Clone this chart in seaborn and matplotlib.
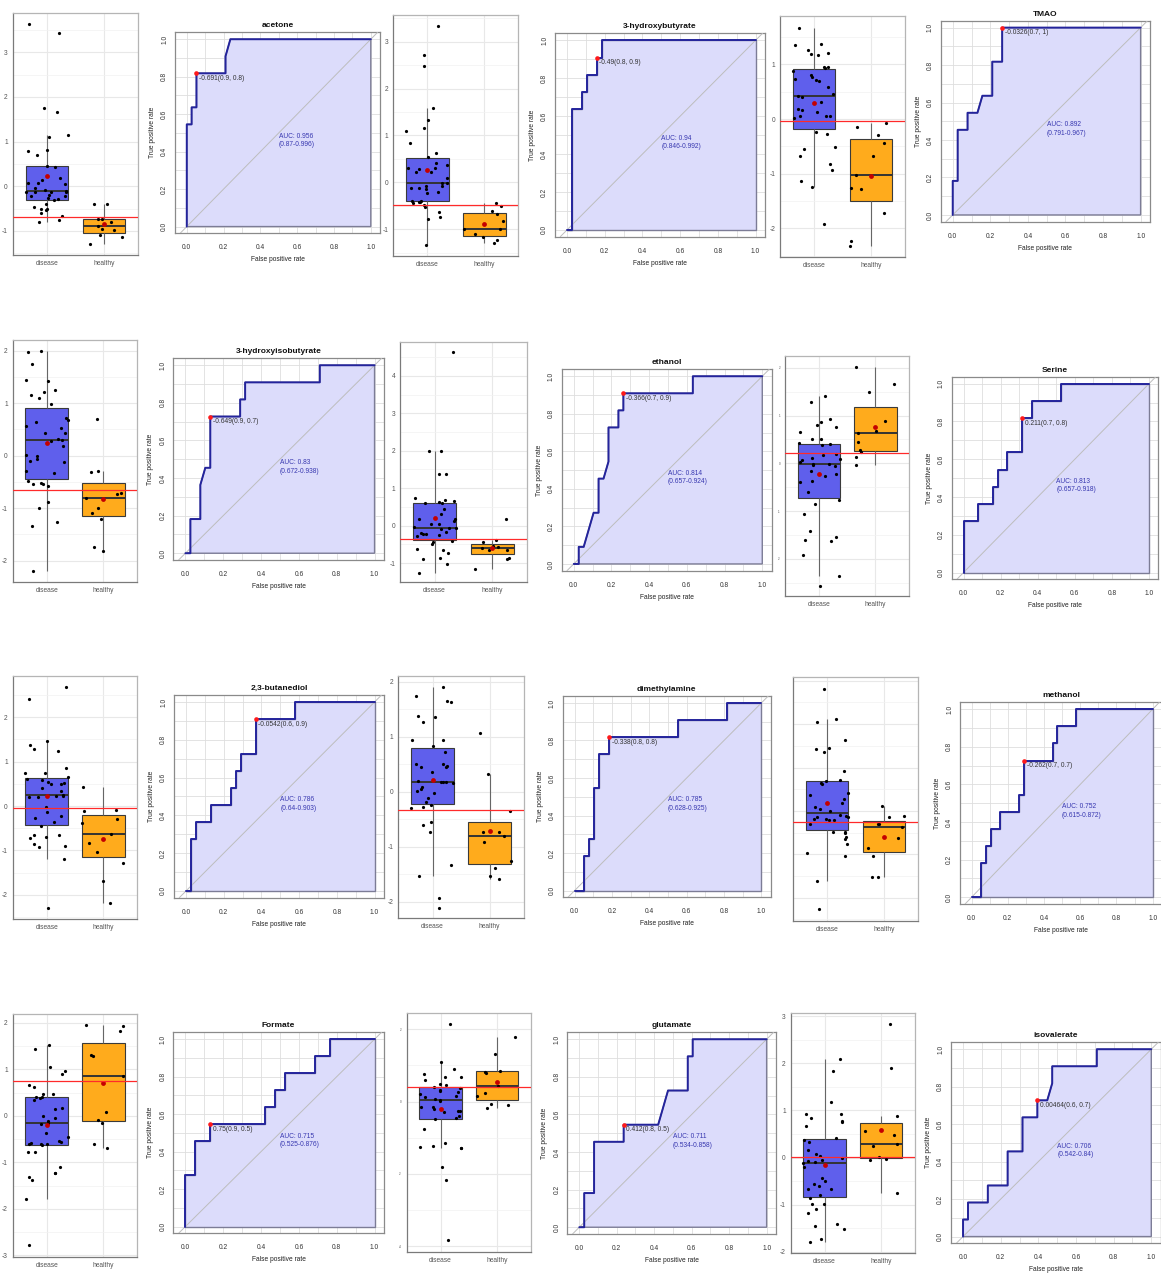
import numpy as np
import pandas as pd
import matplotlib
matplotlib.use('Agg')
import matplotlib.pyplot as plt
from matplotlib.ticker import MultipleLocator, FormatStrFormatter
import seaborn as sns

sns.set_style('white')
plt.rcParams['font.family'] = ['Liberation Sans', 'DejaVu Sans']
plt.rcParams['axes.unicode_minus'] = False
np.random.seed(7)

W, H = 1161, 1278
N_DISEASE, N_HEALTHY = 38, 11
groups = ['disease', 'healthy']
box_colors = {'disease': '#5f5fec', 'healthy': '#ffab1c'}

names = ['acetone', '3-hydroxybutyrate', 'TMAO', '3-hydroxyisobutyrate', 'ethanol', 'Serine',
         '2,3-butanediol', 'dimethylamine', 'methanol', 'Formate', 'glutamate', 'isovalerate']

# scaled concentrations per group
acetone_disease = [3.63, 3.43, 1.75, 1.66, 1.15, 1.11, 0.82, 0.79, 0.69, 0.46, 0.42, 0.18, 0.14, 0.08, 0.07, 0.04,
                   -0.04, -0.08, -0.10, -0.12, -0.12, -0.14, -0.14, -0.19, -0.22, -0.23, -0.27, -0.29, -0.31, -0.40,
                   -0.47, -0.51, -0.51, -0.54, -0.59, -0.66, -0.75, -0.81]
acetone_healthy = [-0.40, -0.40, -0.73, -0.73, -0.81, -0.90, -0.96, -0.98, -1.10, -1.13, -1.29]
hb_disease = [3.33, 2.71, 2.48, 1.58, 1.34, 1.17, 1.09, 0.83, 0.63, 0.55, 0.42, 0.38, 0.31, 0.30, 0.28, 0.23, 0.22, 0.09,
              -0.01, -0.02, -0.07, -0.08, -0.11, -0.13, -0.15, -0.21, -0.22, -0.39, -0.40, -0.41, -0.42, -0.43,
              -0.49, -0.52, -0.63, -0.73, -0.78, -1.34]
hb_healthy = [-0.45, -0.50, -0.61, -0.68, -0.82, -1.00, -1.00, -1.11, -1.17, -1.22, -1.30]
tmao_disease = [1.67, 1.38, 1.35, 1.27, 1.21, 1.19, 1.18, 0.96, 0.96, 0.93, 0.88, 0.80, 0.77, 0.74, 0.72, 0.69, 0.59,
                0.46, 0.43, 0.40, 0.32, 0.19, 0.16, 0.13, 0.05, 0.05, 0.05, 0.01, -0.24, -0.27, -0.52, -0.55, -0.68,
                -0.83, -0.94, -1.14, -1.25, -1.92]
tmao_healthy = [-0.08, -0.15, -0.30, -0.43, -0.68, -1.02, -1.27, -1.28, -1.72, -2.24, -2.33]
hib_disease = [2.00, 1.98, 1.74, 1.44, 1.42, 1.24, 1.21, 1.16, 1.10, 0.98, 0.71, 0.67, 0.64, 0.57, 0.52, 0.43, 0.43,
               0.31, 0.30, 0.28, 0.18, 0.01, -0.01, -0.07, -0.10, -0.12, -0.29, -0.34, -0.48, -0.53, -0.54, -0.55,
               -0.57, -0.89, -1.00, -1.26, -1.34, -2.19]
hib_healthy = [0.70, -0.29, -0.31, -0.72, -0.74, -0.81, -1.00, -1.09, -1.21, -1.74, -1.81]
eth_disease = [4.63, 2.00, 1.99, 1.37, 1.37, 0.73, 0.69, 0.67, 0.62, 0.61, 0.60, 0.44, 0.30, 0.18, 0.17, 0.12, 0.04,
               0.04, -0.04, -0.06, -0.07, -0.10, -0.16, -0.20, -0.22, -0.22, -0.25, -0.28, -0.40, -0.44, -0.50,
               -0.63, -0.65, -0.72, -0.87, -0.89, -1.03, -1.25]
eth_healthy = [0.17, -0.38, -0.44, -0.54, -0.58, -0.60, -0.65, -0.65, -0.87, -0.89, -1.15]
ser_disease = [1.42, 1.29, 0.92, 0.86, 0.81, 0.77, 0.66, 0.51, 0.50, 0.42, 0.40, 0.39, 0.20, 0.18, 0.12, 0.10, 0.07,
               0.03, -0.01, -0.01, -0.03, -0.06, -0.16, -0.22, -0.27, -0.37, -0.40, -0.61, -0.77, -0.86, -1.07,
               -1.42, -1.54, -1.60, -1.62, -1.93, -2.37, -2.56]
ser_healthy = [2.02, 1.66, 1.49, 0.89, 0.68, 0.63, 0.44, 0.28, 0.23, 0.14, -0.03]
bd_disease = [2.69, 2.42, 1.46, 1.37, 1.28, 1.24, 0.86, 0.74, 0.74, 0.65, 0.60, 0.59, 0.55, 0.53, 0.50, 0.49, 0.40,
              0.34, 0.26, 0.23, 0.23, 0.21, 0.21, -0.03, -0.13, -0.22, -0.26, -0.35, -0.44, -0.64, -0.65, -0.69,
              -0.71, -0.86, -0.90, -0.93, -1.20, -2.30]
bd_healthy = [0.42, -0.08, -0.11, -0.30, -0.39, -0.62, -0.84, -1.03, -1.28, -1.68, -2.19]
dma_disease = [1.90, 1.73, 1.64, 1.63, 1.38, 1.35, 1.27, 0.94, 0.93, 0.82, 0.72, 0.50, 0.50, 0.47, 0.45, 0.44, 0.35,
               0.20, 0.18, 0.17, 0.17, 0.16, 0.09, 0.05, 0.01, -0.02, -0.11, -0.18, -0.25, -0.27, -0.30, -0.56,
               -0.61, -0.74, -1.33, -1.53, -1.94, -2.11]
dma_healthy = [1.06, 0.32, -0.36, -0.73, -0.73, -0.80, -0.92, -1.26, -1.38, -1.53, -1.59]
meth_disease = [2.82, 2.12, 2.06, 1.64, 1.45, 1.43, 1.35, 0.91, 0.72, 0.70, 0.64, 0.62, 0.42, 0.37, 0.28, 0.19, 0.08,
                0.05, 0.00, -0.09, -0.11, -0.13, -0.15, -0.18, -0.19, -0.21, -0.22, -0.31, -0.48, -0.49, -0.52,
                -0.59, -0.65, -0.77, -0.96, -1.04, -1.62, -2.27]
meth_healthy = [0.12, -0.11, -0.15, -0.30, -0.31, -0.38, -0.62, -0.85, -1.03, -1.52, -1.53]
form_disease = [1.52, 1.43, 1.05, 0.97, 0.89, 0.66, 0.61, 0.47, 0.47, 0.41, 0.41, 0.39, 0.34, 0.17, 0.14, 0.00,
                -0.04, -0.11, -0.15, -0.17, -0.36, -0.45, -0.54, -0.57, -0.59, -0.61, -0.61, -0.61, -0.63, -0.77,
                -0.78, -1.10, -1.24, -1.24, -1.31, -1.37, -1.78, -2.78]
form_healthy = [1.95, 1.94, 1.82, 1.30, 1.28, 0.85, 0.09, -0.08, -0.16, -0.61, -0.70]
glu_disease = [2.15, 1.09, 0.89, 0.76, 0.67, 0.67, 0.60, 0.49, 0.45, 0.40, 0.38, 0.32, 0.28, 0.26, 0.20, 0.16, 0.12,
               0.08, 0.05, 0.02, -0.14, -0.16, -0.20, -0.26, -0.26, -0.29, -0.40, -0.46, -0.49, -0.76, -1.15,
               -1.22, -1.26, -1.27, -1.29, -1.80, -2.17, -3.84]
glu_healthy = [1.78, 1.31, 0.85, 0.83, 0.78, 0.43, 0.23, 0.16, -0.07, -0.09, -0.17]
iso_disease = [2.10, 1.84, 1.17, 0.93, 0.92, 0.85, 0.78, 0.76, 0.67, 0.41, 0.37, 0.33, 0.17, 0.07, 0.04, -0.01,
               -0.05, -0.08, -0.10, -0.11, -0.21, -0.44, -0.49, -0.56, -0.61, -0.66, -0.67, -0.79, -0.86, -0.98,
               -0.99, -1.09, -1.17, -1.41, -1.45, -1.51, -1.73, -1.79]
iso_healthy = [2.83, 1.89, 0.88, 0.57, 0.48, 0.29, 0.25, 0.01, -0.04, -0.05, -0.76]

disease_values = [acetone_disease, hb_disease, tmao_disease, hib_disease, eth_disease, ser_disease,
                  bd_disease, dma_disease, meth_disease, form_disease, glu_disease, iso_disease]
healthy_values = [acetone_healthy, hb_healthy, tmao_healthy, hib_healthy, eth_healthy, ser_healthy,
                  bd_healthy, dma_healthy, meth_healthy, form_healthy, glu_healthy, iso_healthy]

# ROC vertices as counts of false positives (of 38) and true positives (of 11)
roc_fp = [
    [0, 0, 1, 1, 2, 2, 8, 8, 9, 38],
    [0, 1, 1, 3, 3, 4, 4, 6, 6, 7, 7, 38],
    [0, 0, 1, 1, 3, 3, 5, 6, 8, 8, 10, 10, 38],
    [0, 1, 1, 3, 3, 4, 5, 5, 11, 11, 12, 12, 27, 27, 38],
    [0, 1, 1, 2, 4, 5, 5, 6, 7, 7, 9, 9, 10, 10, 24, 24, 38],
    [0, 0, 3, 3, 6, 6, 7, 7, 9, 9, 12, 12, 14, 14, 20, 20, 38],
    [0, 1, 1, 2, 2, 5, 5, 9, 9, 10, 10, 11, 11, 14, 14, 22, 22, 38],
    [0, 2, 2, 3, 3, 4, 4, 5, 5, 7, 7, 21, 21, 31, 31, 38],
    [0, 2, 2, 3, 3, 4, 4, 6, 6, 10, 10, 11, 11, 17, 17, 18, 18, 22, 22, 38],
    [0, 0, 2, 2, 5, 5, 16, 16, 18, 18, 20, 20, 26, 26, 29, 29, 38],
    [0, 1, 1, 3, 3, 9, 9, 16, 18, 22, 22, 23, 23, 38],
    [0, 0, 1, 1, 5, 5, 9, 9, 12, 12, 15, 15, 17, 18, 18, 27, 27, 38],
]
roc_tp = [
    [0, 6, 6, 7, 7, 9, 9, 10, 11, 11],
    [0, 0, 7, 7, 8, 8, 9, 9, 10, 10, 11, 11],
    [0, 2, 2, 5, 5, 6, 6, 7, 7, 9, 9, 11, 11],
    [0, 0, 2, 2, 4, 5, 5, 8, 8, 9, 9, 10, 10, 11, 11],
    [0, 0, 1, 1, 3, 3, 5, 5, 6, 8, 8, 9, 9, 10, 10, 11, 11],
    [0, 3, 3, 4, 4, 5, 5, 6, 6, 7, 7, 9, 9, 10, 10, 11, 11],
    [0, 0, 3, 3, 4, 4, 5, 5, 6, 6, 7, 7, 8, 8, 10, 10, 11, 11],
    [0, 0, 2, 2, 3, 3, 6, 6, 8, 8, 9, 9, 10, 10, 11, 11],
    [0, 0, 2, 2, 3, 3, 4, 4, 5, 5, 6, 6, 8, 8, 9, 9, 10, 10, 11, 11],
    [0, 3, 3, 5, 5, 6, 6, 7, 7, 8, 8, 9, 9, 10, 10, 11, 11],
    [0, 0, 2, 2, 5, 5, 6, 6, 8, 8, 10, 10, 11, 11],
    [0, 1, 1, 2, 2, 3, 3, 5, 5, 7, 7, 8, 8, 9, 10, 10, 11, 11],
]
cut_fp = [2, 6, 10, 5, 10, 12, 14, 7, 11, 5, 9, 15]
cut_tp = [9, 10, 11, 8, 10, 9, 10, 9, 8, 6, 6, 8]
cutoffs = [-0.691, -0.49, -0.0326, -0.649, -0.366, 0.211, -0.0542, -0.338, -0.262, 0.75, 0.412, 0.00464]
cut_labels = ['-0.691(0.9, 0.8)', '-0.49(0.8, 0.9)', '-0.0326(0.7, 1)', '-0.649(0.9, 0.7)', '-0.366(0.7, 0.9)',
              '0.211(0.7, 0.8)', '-0.0542(0.6, 0.9)', '-0.338(0.8, 0.8)', '-0.262(0.7, 0.7)', '0.75(0.9, 0.5)',
              '0.412(0.8, 0.5)', '0.00464(0.6, 0.7)']
auc_labels = ['0.956', '0.94', '0.892', '0.83', '0.814', '0.813', '0.786', '0.785', '0.752', '0.715', '0.711', '0.706']
ci_labels = ['0.87-0.996', '0.846-0.992', '0.791-0.967', '0.672-0.938', '0.657-0.924', '0.657-0.918',
             '0.64-0.903', '0.628-0.925', '0.615-0.872', '0.525-0.876', '0.534-0.858', '0.542-0.84']

# panel frames in pixels: left, top, right, bottom
box_frames = [(12.7, 13.3, 138.3, 255), (393.3, 15, 518.3, 256), (780, 15.7, 905, 257.3),
              (12.7, 340, 137.3, 581.7), (400, 341.7, 526.7, 582.3), (785, 356, 909.3, 596),
              (12.7, 676, 137.3, 919.3), (398.3, 676, 524, 918.3), (792.7, 677.3, 918.3, 920.7),
              (12.7, 1014, 137.3, 1256.7), (406.7, 1013.3, 530.7, 1251.7), (790.7, 1013.3, 915, 1253.3)]
box_ylims = [(-1.54, 3.87), (-1.57, 3.57), (-2.53, 1.89), (-2.40, 2.20), (-1.51, 4.91), (-2.78, 2.25),
             (-2.55, 2.93), (-2.30, 2.10), (-2.53, 3.08), (-3.03, 2.19), (-4.15, 2.44), (-2.03, 3.06)]
box_ticks = [range(-1, 4), range(-1, 4), range(-2, 2), range(-2, 3), range(-1, 5), range(-2, 3),
             range(-2, 3), range(-2, 3), range(-2, 4), range(-3, 3), [-4, -2, 0, 2], range(-2, 4)]
box_label_size = [4.8, 4.8, 4.8, 4.8, 4.8, 2.2, 4.8, 4.8, 0, 4.8, 2.2, 4.8]
roc_frames = [(175, 32.3, 380, 233.3), (555, 33.3, 765, 236.7), (940.7, 20.7, 1150, 221.7),
              (173.3, 358.3, 384, 560), (561.7, 369.3, 771.7, 570.7), (951.7, 376.7, 1158.3, 579.3),
              (174, 695, 384, 897.7), (562.7, 696, 770.7, 897.3), (960, 702.3, 1161.7, 904),
              (173.3, 1032.3, 384, 1233.3), (567.3, 1032.3, 776, 1234), (951, 1042.3, 1160.7, 1243.3)]

fig = plt.figure(figsize=(W / 100, H / 100), dpi=100)


def add_ax(frame):
    l, t, r, b = frame
    return fig.add_axes([l / W, 1 - b / H, (r - l) / W, (b - t) / H])


def draw_box(i):
    ax = add_ax(box_frames[i])
    d, h = disease_values[i], healthy_values[i]
    df = pd.DataFrame({'group': ['disease'] * len(d) + ['healthy'] * len(h), 'value': d + h})
    sns.boxplot(data=df, x='group', y='value', hue='group', order=groups, palette=box_colors, width=0.75,
                saturation=1, showfliers=False, showcaps=False, linecolor='#3a3a3a', linewidth=0.8,
                legend=False, ax=ax, whiskerprops=dict(color='#666666'),
                medianprops=dict(linewidth=1.4, color='#333333'))
    sns.stripplot(data=df, x='group', y='value', order=groups, color='black', size=2.3, jitter=0.38,
                  linewidth=0, ax=ax, zorder=3)
    means = df.groupby('group')['value'].mean()
    ax.scatter([0, 1], means[groups].values, color='#c40000', s=12, zorder=4, linewidths=0)
    ax.axhline(cutoffs[i], color='#ff2a2a', lw=0.9, zorder=5)
    ax.set_xlim(-0.6, 1.6)
    ax.set_ylim(*box_ylims[i])
    ax.set_yticks(list(box_ticks[i]))
    step = box_ticks[i][1] - box_ticks[i][0]
    ax.yaxis.set_minor_locator(MultipleLocator(step / 2))
    ax.set_xlabel('')
    ax.set_ylabel('')
    ax.set_axisbelow(True)
    ax.grid(True, which='major', color='#e8e8e8', lw=0.8)
    ax.grid(True, which='minor', axis='y', color='#f2f2f2', lw=0.5)
    ax.tick_params(which='minor', length=0)
    ax.tick_params(axis='both', which='major', length=2, width=0.6, color='#555555',
                   labelcolor='#555555', labelsize=4.8, pad=1.5)
    if box_label_size[i] == 0:
        ax.tick_params(axis='y', labelleft=False)
    else:
        ax.tick_params(axis='y', labelsize=box_label_size[i])
    for s in ['left', 'bottom']:
        ax.spines[s].set_color('#7a7a7a')
        ax.spines[s].set_linewidth(0.9)
    for s in ['top', 'right']:
        ax.spines[s].set_color('#b5b5b5')
        ax.spines[s].set_linewidth(0.9)


def draw_roc(i):
    ax = add_ax(roc_frames[i])
    roc = pd.DataFrame({'fpr': np.array(roc_fp[i]) / N_DISEASE, 'tpr': np.array(roc_tp[i]) / N_HEALTHY})
    ax.fill(np.append(roc['fpr'].values, 1.0), np.append(roc['tpr'].values, 0.0),
            facecolor='#dcdcfb', edgecolor='#7c7c96', lw=1.0, zorder=2)
    ax.axline((0, 0), (1, 1), color='#bdbdbd', lw=0.7, zorder=3)
    sns.lineplot(data=roc, x='fpr', y='tpr', sort=False, estimator=None, color='#24249c', lw=1.4,
                 ax=ax, zorder=4)
    cx, cy = cut_fp[i] / N_DISEASE, cut_tp[i] / N_HEALTHY
    ax.scatter([cx], [cy], color='#ff1a1a', s=11, zorder=5, linewidths=0)
    ax.text(cx + 0.014, cy - 0.028, cut_labels[i], fontsize=4.8, color='#333333', ha='left', va='center',
            zorder=6)
    ax.text(0.5, 0.46, f'AUC: {auc_labels[i]}\n({ci_labels[i]})', fontsize=4.8, color='#3838b0',
            ha='left', va='center', linespacing=1.3, zorder=6)
    ax.set_xlim(-0.064, 1.05)
    ax.set_ylim(-0.036, 1.037)
    ax.set_xticks(np.arange(0, 1.01, 0.2))
    ax.set_yticks(np.arange(0, 1.01, 0.2))
    ax.set_xticks(np.arange(0, 1.01, 0.1), minor=True)
    ax.set_yticks(np.arange(0, 1.01, 0.1), minor=True)
    ax.xaxis.set_major_formatter(FormatStrFormatter('%.1f'))
    ax.yaxis.set_major_formatter(FormatStrFormatter('%.1f'))
    ax.set_axisbelow(True)
    ax.grid(True, which='both', color='#dedede', lw=0.6)
    ax.tick_params(which='minor', length=0)
    ax.tick_params(axis='both', which='major', length=2.5, width=0.6, color='#555555',
                   labelcolor='#333333', labelsize=4.8)
    ax.tick_params(axis='x', pad=5.5)
    ax.tick_params(axis='y', pad=2.5)
    for lab in ax.get_yticklabels():
        lab.set_rotation(90)
        lab.set_va('center')
    ax.set_xlabel('False positive rate', fontsize=4.8, color='#222222', labelpad=3.5)
    ax.set_ylabel('True positive rate', fontsize=4.8, color='#222222', labelpad=3.5)
    ax.set_title(names[i], fontsize=6, fontweight='bold', color='#111111', pad=3.5)
    for s in ax.spines.values():
        s.set_color('#8a8a8a')
        s.set_linewidth(0.9)


for i in range(len(names)):
    draw_box(i)
    draw_roc(i)

fig.savefig('out.png', dpi=100, facecolor='white')
